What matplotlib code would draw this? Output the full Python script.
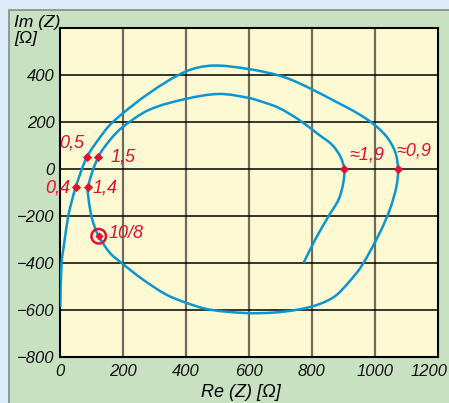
import numpy as np
import matplotlib.pyplot as plt
from matplotlib.patches import Rectangle, PathPatch
from matplotlib.path import Path

# impedance locus (ohms)
re_z = [1, 5, 13, 26, 38, 50, 85, 126, 168, 284, 400, 485, 600, 695, 758, 864,
        969, 1032, 1064, 1074, 1069, 1048, 1016, 958, 916, 874, 822, 758, 680,
        590, 474, 400, 337, 263, 195, 158, 123, 111, 100, 91, 89, 121, 160, 200,
        284, 400, 506, 600, 653, 695, 758, 822, 864, 890, 903, 900, 885, 853,
        811, 774]
im_z = [-588, -400, -320, -202, -135, -77, 49, 132, 200, 323, 415, 440, 425, 398,
        366, 295, 217, 146, 75, 0, -74, -173, -272, -414, -485, -542, -577, -599,
        -612, -614, -599, -570, -535, -471, -400, -357, -287, -251, -202, -130,
        -77, 49, 125, 179, 252, 298, 319, 302, 281, 260, 210, 146, 103, 54, 0,
        -60, -131, -202, -301, -400]

# frequency markers
mark_re = [50, 85, 1074, 89, 121, 903]
mark_im = [-77, 49, 0, -77, 49, 0]
mark_txt = ["0,4", "0,5", "≈0,9", "1,4", "1,5", "≈1,9"]
ring_re, ring_im, ring_txt = 123, -287, "10/8"

blue = "#0a96d0"
red = "#e2102e"


def smooth_path(xs, ys, sx, sy):
    # cubic Hermite through the read points, chord-length tangents in screen scale
    p = np.column_stack([xs, ys]).astype(float)
    d = np.hypot(np.diff(p[:, 0]) * sx, np.diff(p[:, 1]) * sy)
    m = np.zeros_like(p)
    m[0] = (p[1] - p[0]) / d[0]
    m[-1] = (p[-1] - p[-2]) / d[-1]
    for i in range(1, len(p) - 1):
        m[i] = (p[i + 1] - p[i - 1]) / (d[i - 1] + d[i])
    verts = [p[0]]
    codes = [Path.MOVETO]
    for i in range(len(p) - 1):
        verts += [p[i] + m[i] * d[i] / 3, p[i + 1] - m[i + 1] * d[i] / 3, p[i + 1]]
        codes += [Path.CURVE4] * 3
    return Path(verts, codes)


plt.rcParams['font.family'] = ['Liberation Sans', 'DejaVu Sans']
plt.rcParams['font.style'] = 'italic'

fig = plt.figure(figsize=(4.49, 4.03), dpi=100, facecolor="#dcecfb")
fig.patches.append(Rectangle((9 / 449, -0.01), 1, 1.01 - 10 / 403, transform=fig.transFigure,
                             facecolor="#c8e1c1", edgecolor="#8a8a8a", lw=1.2, zorder=-5))
ax = fig.add_axes([60 / 449, 46.3 / 403, 377.7 / 449, 328.7 / 403])
ax.set_facecolor("#fdfad3")

ax.add_patch(PathPatch(smooth_path(re_z, im_z, 377.7 / 1200, 328.7 / 1400),
                       facecolor="none", edgecolor=blue, lw=1.8, zorder=3, capstyle="butt"))
ax.scatter(mark_re, mark_im, marker="D", s=22, color=red, zorder=4, linewidths=0)
ax.scatter([ring_re], [ring_im], marker="o", s=110, facecolor="none",
           edgecolor=red, linewidths=1.8, zorder=4)
ax.scatter([ring_re], [ring_im], marker="D", s=18, color=red, zorder=5, linewidths=0)

fs = 12
offsets = {"0,4": (-4, -1, "right", "center"), "0,5": (-2, 10, "right", "center"),
           "≈0,9": (-1, 13, "left", "center"), "1,4": (3, -1, "left", "center"),
           "1,5": (9, 0, "left", "center"), "≈1,9": (4, 10, "left", "center")}
for x, y, t in zip(mark_re, mark_im, mark_txt):
    dx, dy, ha, va = offsets[t]
    ax.annotate(t, (x, y), xytext=(dx, dy), textcoords="offset points",
                ha=ha, va=va, color=red, fontsize=fs + 1, zorder=6)
ax.annotate(ring_txt, (ring_re, ring_im), xytext=(7, 2), textcoords="offset points",
            ha="left", va="center", color=red, fontsize=fs + 1, zorder=6)

ax.set_xlim(0, 1200)
ax.set_ylim(-800, 600)
ax.set_xticks(range(0, 1201, 200))
ax.set_xticklabels(["0", "200", "400", "600", "800", "1000", ""])
ax.set_yticks(range(-800, 401, 200))
ax.set_yticklabels(["\u2212800", "\u2212600", "\u2212400", "\u2212200", "0", "200", "400"])
ax.tick_params(length=0, labelsize=fs, pad=4, colors="#111111")
ax.tick_params(axis="x", pad=5)
ax.annotate("1200", (1200, -800), xytext=(7, -5.5), textcoords="offset points",
            ha="right", va="top", fontsize=fs, color="#111111", annotation_clip=False)

for x in range(200, 1200, 200):
    ax.axvline(x, color="#6f6b5c", lw=1.6, zorder=1)
for y in range(-600, 600, 200):
    ax.axhline(y, color="black", lw=1.1, zorder=2)
for s in ax.spines.values():
    s.set_linewidth(1.5)
    s.set_color("black")

fig.text(14 / 449, 1 - 15 / 403, "Im (Z)\n[\u03a9]", ha="left", va="top",
         fontsize=fs + 0.5, linespacing=1.05)
fig.text(241 / 449, 2 / 403, "Re (Z) [\u03a9]", ha="center", va="bottom", fontsize=fs + 1)

fig.savefig("out.png", dpi=100, facecolor=fig.get_facecolor())
